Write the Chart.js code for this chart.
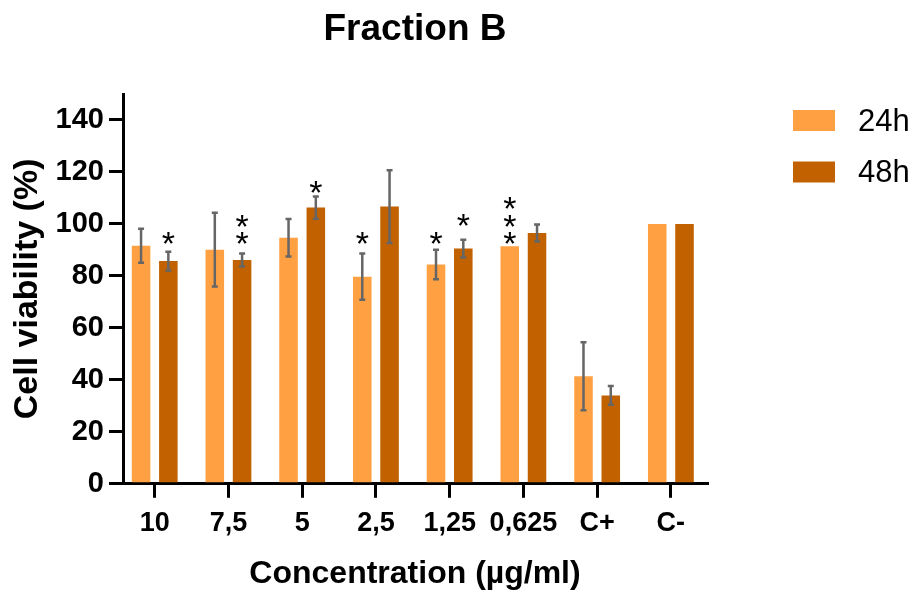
<!DOCTYPE html>
<html lang="en">
<head>
    <meta charset="UTF-8">
    <title>Fraction B</title>
    <script src="https://cdn.jsdelivr.net/npm/chart.js"></script>
    <style>
        body { margin: 0; background: #fff; }
        #wrap { width: 914px; height: 595px; }
    </style>
</head>
<body>
    <div id="wrap">
        <canvas id="myChart"></canvas>
    </div>
<script>
    // concentrations (µg/ml) + controls
    const categories = ['10', '7,5', '5', '2,5', '1,25', '0,625', 'C+', 'C-'];
    const viab24 = [91.6, 90.1, 94.7, 79.7, 84.4, 91.4, 41.4, 100];
    const viab48 = [85.7, 86.1, 106.3, 106.7, 90.5, 96.5, 34.0, 100];
    const sd24 = [6.5, 14.2, 7.2, 8.9, 5.7, 0, 13.1, 0];
    const sd48 = [3.6, 2.5, 4.3, 14.0, 3.4, 3.3, 3.6, 0];
    // significance marks and the value where the lowest star sits
    const stars24 = ['', '', '', '*', '*', '***', '', ''];
    const stars48 = ['*', '**', '*', '', '*', '', '', ''];
    const starAt24 = [null, null, null, 95.2, 95.2, 95.2, null, null];
    const starAt48 = [95.2, 95.2, 115.1, null, 102.2, null, null, null];
    const yTicks = [0, 20, 40, 60, 80, 100, 120, 140];

    const FONT = "'Liberation Sans', Arial, sans-serif";

    const errorBars = {
        id: 'errorBars',
        afterDatasetsDraw(chart) {
            const ctx = chart.ctx;
            const y = chart.scales.y;
            const sds = [sd24, sd48];
            const stars = [stars24, stars48];
            const starAt = [starAt24, starAt48];
            ctx.save();
            chart.data.datasets.forEach((ds, i) => {
                const meta = chart.getDatasetMeta(i);
                meta.data.forEach((bar, j) => {
                    const v = ds.data[j].y;
                    const e = sds[i][j];
                    if (e > 0) {
                        const top = y.getPixelForValue(v + e);
                        const bot = y.getPixelForValue(v - e);
                        ctx.strokeStyle = '#666';
                        ctx.lineWidth = 2.5;
                        ctx.beginPath();
                        ctx.moveTo(bar.x, top); ctx.lineTo(bar.x, bot);
                        ctx.moveTo(bar.x - 3, top); ctx.lineTo(bar.x + 3, top);
                        ctx.moveTo(bar.x - 3, bot); ctx.lineTo(bar.x + 3, bot);
                        ctx.stroke();
                    }
                    const s = stars[i][j];
                    if (s) {
                        ctx.fillStyle = '#000';
                        ctx.font = '34px ' + FONT;
                        ctx.textAlign = 'center';
                        ctx.textBaseline = 'alphabetic';
                        const base = y.getPixelForValue(starAt[i][j]);
                        for (let k = 0; k < s.length; k++) {
                            ctx.fillText('*', bar.x, base - k * 17.5 + 19);
                        }
                    }
                });
            });
            ctx.restore();
        }
    };

    const sideLegend = {
        id: 'sideLegend',
        afterDraw(chart) {
            const ctx = chart.ctx;
            const x0 = chart.chartArea.right + 86;
            ctx.save();
            chart.data.datasets.forEach((ds, i) => {
                const top = 110 + i * 51.5;
                ctx.fillStyle = ds.backgroundColor;
                ctx.fillRect(x0, top, 42, 21);
                ctx.fillStyle = '#000';
                ctx.font = '31px ' + FONT;
                ctx.textAlign = 'left';
                ctx.textBaseline = 'middle';
                ctx.fillText(ds.label, x0 + 65, top + 12);
            });
            ctx.restore();
        }
    };

    const data = {
        datasets: [
            {
                label: '24h',
                backgroundColor: '#FFA142',
                data: viab24.map((v, i) => ({ x: i, y: v }))
            },
            {
                label: '48h',
                backgroundColor: '#C26100',
                data: viab48.map((v, i) => ({ x: i, y: v }))
            }
        ]
    };

    const config = {
        type: 'bar',
        data: data,
        options: {
            responsive: true,
            maintainAspectRatio: false,
            animation: false,
            categoryPercentage: 0.74,
            barPercentage: 0.68,
            layout: { padding: { left: 0, right: 207, top: 0, bottom: 0 } },
            plugins: {
                legend: { display: false },
                tooltip: { enabled: false },
                title: {
                    display: true,
                    text: 'Fraction B',
                    color: '#000',
                    fullSize: false,
                    font: { family: FONT, size: 37, weight: 'bold' },
                    padding: { top: 8, bottom: 41.6 }
                }
            },
            scales: {
                x: {
                    type: 'linear',
                    min: -0.43,
                    max: 7.49,
                    offset: false,
                    afterBuildTicks: (s) => { s.ticks = categories.map((c, i) => ({ value: i })); },
                    grid: { offset: false, drawOnChartArea: false, drawTicks: true, tickLength: 14, color: '#000', lineWidth: 3 },
                    border: { display: true, color: '#000', width: 3 },
                    ticks: {
                        autoSkip: false, maxRotation: 0, padding: 10, color: '#000',
                        font: { family: FONT, size: 27, weight: 'bold' },
                        callback: (v) => categories[v]
                    },
                    title: {
                        display: true,
                        text: 'Concentration (µg/ml)',
                        color: '#000',
                        font: { family: FONT, size: 32, weight: 'bold' },
                        padding: { top: 4.4, bottom: 2 }
                    }
                },
                y: {
                    min: 0,
                    max: 150,
                    afterBuildTicks: (s) => { s.ticks = yTicks.map(v => ({ value: v })); },
                    afterFit: (s) => { s.width = 123; },
                    grid: { drawOnChartArea: false, drawTicks: true, tickLength: 14, color: '#000', lineWidth: 3 },
                    border: { display: true, color: '#000', width: 3 },
                    ticks: {
                        padding: 5, color: '#000',
                        font: { family: FONT, size: 29, weight: 'bold' }
                    },
                    title: {
                        display: true,
                        text: 'Cell viability (%)',
                        color: '#000',
                        font: { family: FONT, size: 34, weight: 'bold' },
                        padding: { top: 7, bottom: 0 }
                    }
                }
            }
        },
        plugins: [errorBars, sideLegend]
    };

    const myChart = new Chart(document.querySelector('#myChart'), config);
</script>
</body>
</html>
